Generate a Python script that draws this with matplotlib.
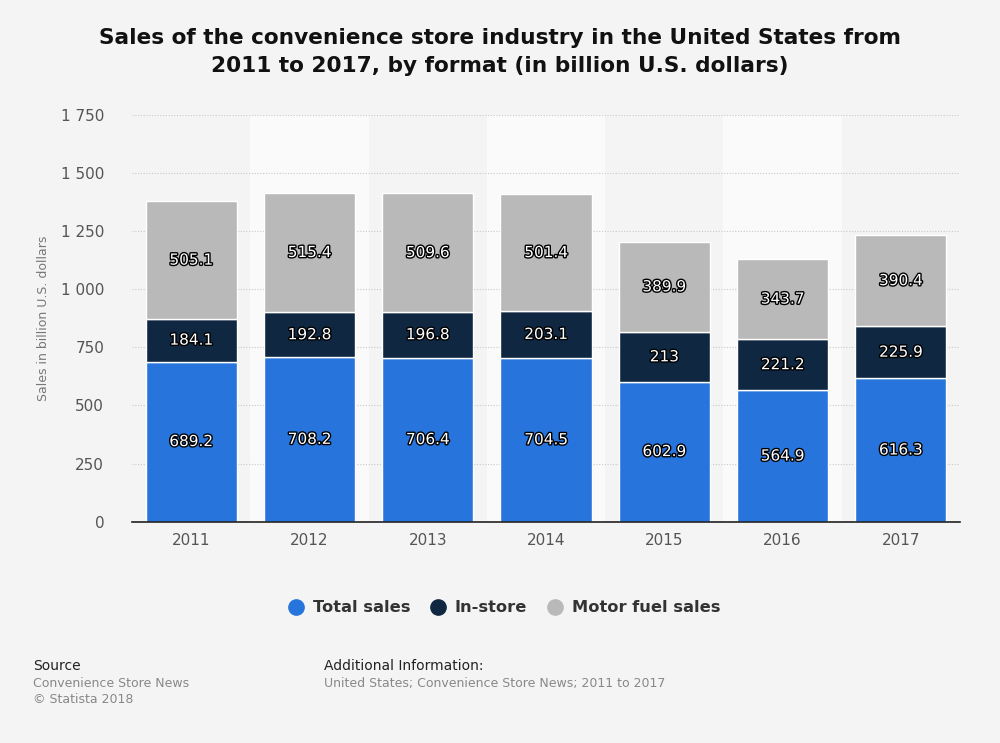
import matplotlib.pyplot as plt
import matplotlib.patheffects as pe
import numpy as np
from matplotlib.ticker import FuncFormatter
from matplotlib.lines import Line2D

plt.rcParams["font.family"] = ["DejaVu Sans"]

years = ["2011", "2012", "2013", "2014", "2015", "2016", "2017"]
total_sales = [689.2, 708.2, 706.4, 704.5, 602.9, 564.9, 616.3]
in_store = [184.1, 192.8, 196.8, 203.1, 213, 221.2, 225.9]
motor_fuel = [505.1, 515.4, 509.6, 501.4, 389.9, 343.7, 390.4]
labels_total = ["689.2", "708.2", "706.4", "704.5", "602.9", "564.9", "616.3"]
labels_store = ["184.1", "192.8", "196.8", "203.1", "213", "221.2", "225.9"]
labels_fuel = ["505.1", "515.4", "509.6", "501.4", "389.9", "343.7", "390.4"]

c_total = "#2775dc"
c_store = "#0f2740"
c_fuel = "#b9b9b9"
bg = "#f4f4f4"

fig = plt.figure(figsize=(10, 7.43), dpi=100, facecolor=bg)
ax = fig.add_axes([0.132, 0.298, 0.828, 0.547], facecolor=bg)

x = np.arange(len(years))
ax.set_xlim(-0.5, len(years) - 0.5)
ax.set_ylim(0, 1750)

# lighter alternating bands
for i in x:
    if i % 2 == 1:
        ax.axvspan(i - 0.5, i + 0.5, color="#fafafa", zorder=0, lw=0)

ax.yaxis.grid(True, linestyle=(0, (1, 1.5)), color="#c8c8c8", lw=0.8, zorder=1)
ax.set_axisbelow(True)

w = 0.77
b1 = np.array(total_sales)
b2 = b1 + np.array(in_store)
ax.bar(x, total_sales, w, color=c_total, edgecolor="white", lw=1, zorder=2)
ax.bar(x, in_store, w, bottom=b1, color=c_store, edgecolor="white", lw=1, zorder=2)
ax.bar(x, motor_fuel, w, bottom=b2, color=c_fuel, edgecolor="white", lw=1, zorder=2)

stroke = [pe.withStroke(linewidth=2, foreground="black")]
for i in x:
    ax.text(i, total_sales[i] / 2, labels_total[i], ha="center", va="center",
            color="white", fontsize=11, path_effects=stroke, zorder=3)
    ax.text(i, b1[i] + in_store[i] / 2, labels_store[i], ha="center", va="center",
            color="white", fontsize=11, path_effects=stroke, zorder=3)
    ax.text(i, b2[i] + motor_fuel[i] / 2, labels_fuel[i], ha="center", va="center",
            color="white", fontsize=11, path_effects=stroke, zorder=3)

ax.set_xticks(x)
ax.set_xticklabels(years)
ax.set_yticks(np.arange(0, 1751, 250))
ax.yaxis.set_major_formatter(FuncFormatter(lambda v, p: f"{int(v):,}".replace(",", " ")))
ax.tick_params(axis="both", length=0, labelsize=11, colors="#555555", pad=8)
ax.tick_params(axis="y", pad=20)
for s in ["left", "right", "top"]:
    ax.spines[s].set_visible(False)
ax.spines["bottom"].set_color("#222222")
ax.spines["bottom"].set_linewidth(1.2)

ax.set_ylabel("Sales in billion U.S. dollars", fontsize=9, color="#777777", labelpad=8)

fig.text(0.5, 0.93, "Sales of the convenience store industry in the United States from\n2011 to 2017, by format (in billion U.S. dollars)",
         ha="center", va="center", fontsize=15.6, fontweight="bold", color="#111111", linespacing=1.55)

handles = [Line2D([0], [0], marker="o", ls="", markersize=11, markerfacecolor=c, markeredgecolor=c)
           for c in (c_total, c_store, c_fuel)]
leg = fig.legend(handles, ["Total sales", "In-store", "Motor fuel sales"], loc="center",
                 bbox_to_anchor=(0.5, 0.182), ncol=3, frameon=False, handletextpad=0.05,
                 columnspacing=0.7, prop={"weight": "bold", "size": 11.7})
for t in leg.get_texts():
    t.set_color("#333333")

fig.text(0.033, 0.098, "Source", fontsize=10, color="#222222")
fig.text(0.033, 0.075, "Convenience Store News", fontsize=9, color="#888888")
fig.text(0.033, 0.054, "\u00a9 Statista 2018", fontsize=9, color="#888888")
fig.text(0.324, 0.098, "Additional Information:", fontsize=10, color="#222222")
fig.text(0.324, 0.075, "United States; Convenience Store News; 2011 to 2017", fontsize=9, color="#888888")

fig.savefig("out.png", dpi=100, facecolor=bg)
